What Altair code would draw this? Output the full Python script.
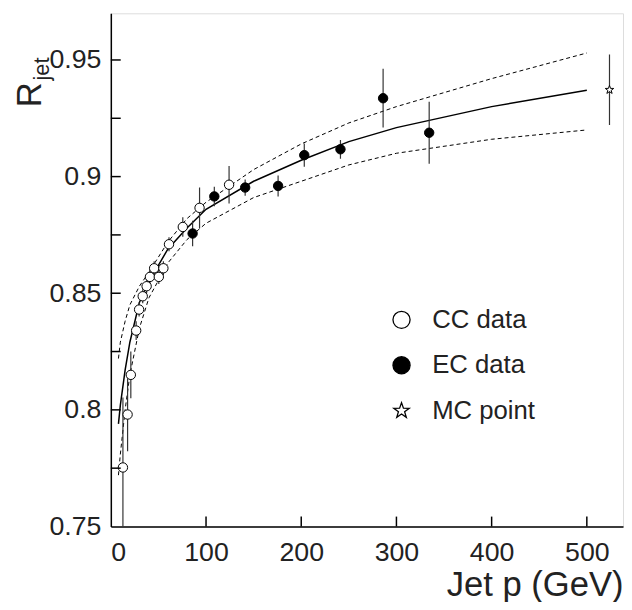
import altair as alt
import pandas as pd

# ---------------- data ----------------
cc_e = [12.7, 17.6, 21.0, 26.6, 29.7, 33.5, 37.6, 41.1, 45.5, 50.4, 55.2, 61.1, 75.6, 93.2, 124.2]
cc_r = [0.7753, 0.798, 0.815, 0.834, 0.843, 0.8487, 0.853, 0.857, 0.8607, 0.857, 0.8607, 0.871, 0.8784, 0.8866, 0.8965]
cc_err = [0.03, 0.0157, 0.010, 0.004, 0.003, 0.003, 0.003, 0.003, 0.003, 0.003, 0.003, 0.003, 0.0042, 0.0087, 0.008]

ec_e = [85.9, 108.7, 141.1, 175.7, 203.2, 241.2, 286.0, 334.4]
ec_r = [0.8756, 0.8915, 0.8953, 0.896, 0.9092, 0.9117, 0.9336, 0.9188]
ec_err = [0.0055, 0.0042, 0.0035, 0.0045, 0.005, 0.004, 0.0126, 0.0133]

mc_e = [523.8]
mc_r = [0.9372]
mc_err = [0.0151]

fit_e = [8, 10, 15, 20, 30, 40, 60, 80, 100, 150, 200, 250, 300, 400, 500]
fit_r = [0.794, 0.802, 0.817, 0.829, 0.846, 0.855, 0.869, 0.878, 0.886, 0.898, 0.907, 0.915, 0.921, 0.930, 0.937]
band_hi = [0.822, 0.829, 0.838, 0.845, 0.853, 0.859, 0.872, 0.882, 0.889, 0.903, 0.914, 0.923, 0.930, 0.942, 0.953]
band_lo = [0.772, 0.781, 0.800, 0.815, 0.835, 0.848, 0.863, 0.873, 0.880, 0.891, 0.898, 0.905, 0.910, 0.916, 0.920]

series_names = ["CC data", "EC data", "MC point"]
x_ticks = [100, 200, 300, 400, 500]
x_labels = [0, 100, 200, 300, 400, 500]
y_ticks = [0.775, 0.8, 0.825, 0.85, 0.875, 0.9, 0.925, 0.95]
y_labels = [0.75, 0.8, 0.85, 0.9, 0.95]

# ---------------- tables ----------------
rows = []
for name, es, rs, errs in [("CC data", cc_e, cc_r, cc_err),
                           ("EC data", ec_e, ec_r, ec_err),
                           ("MC point", mc_e, mc_r, mc_err)]:
    for e, r, d in zip(es, rs, errs):
        rows.append({"E": e, "R": r, "lo": r - d, "hi": r + d, "series": name})
pts = pd.DataFrame(rows)

curves = pd.DataFrame({"E": fit_e, "fit": fit_r})
band = pd.concat([
    pd.DataFrame({"E": fit_e, "R": band_hi, "b": "hi"}),
    pd.DataFrame({"E": fit_e, "R": band_lo, "b": "lo"}),
])

W, H = 518, 519
FONT = "Liberation Sans"
STAR = ("M0,-0.95L0.223,-0.308L0.903,-0.294L0.361,0.118L0.559,0.769L0,0.38"
        "L-0.559,0.769L-0.361,0.118L-0.903,-0.294L-0.223,-0.308Z")

xs = alt.Scale(domain=[0, 538], nice=False, zero=False)
ys = alt.Scale(domain=[0.75, 0.97], nice=False, zero=False)

xaxis = alt.Axis(values=x_labels, format="d", tickSize=0, labelPadding=13,
                 labelFontSize=27, labelFont=FONT, labelColor="#222",
                 title="Jet p (GeV)", titleFontSize=35, titleFont=FONT,
                 titleFontWeight="normal", titleAnchor="end", titleColor="#222",
                 titlePadding=3, grid=False, domainColor="black", domainWidth=1.5)
yaxis = alt.Axis(values=y_labels, tickSize=0, labelPadding=10,
                 labelFontSize=27, labelFont=FONT, labelColor="#222",
                 labelExpr="datum.value == 0.8 ? '0.8' : datum.value == 0.9 ? '0.9' : format(datum.value, '.2f')",
                 title=None, grid=False, domainColor="black", domainWidth=1.5)

band_layer = alt.Chart(band).mark_line(color="black", strokeWidth=1, strokeDash=[4, 3]).encode(
    x=alt.X("E:Q", scale=xs, axis=xaxis), y=alt.Y("R:Q", scale=ys, axis=yaxis), detail="b:N")
fit_layer = alt.Chart(curves).mark_line(color="black", strokeWidth=1.5).encode(
    x=alt.X("E:Q", scale=xs), y=alt.Y("fit:Q", scale=ys))

err_layer = alt.Chart(pts).mark_rule(color="#333", strokeWidth=1.2, clip=True).encode(
    x=alt.X("E:Q", scale=xs), y=alt.Y("lo:Q", scale=ys), y2="hi:Q")

leg = alt.Legend(title=None, orient="none", legendX=281, legendY=297,
                 symbolSize=300, symbolStrokeWidth=1.3,
                 labelFontSize=26, labelFont=FONT, labelColor="#222",
                 labelOffset=18, rowPadding=20, padding=0)

pt_layer = alt.Chart(pts).mark_point(filled=True, size=90, strokeWidth=1, opacity=1).encode(
    x=alt.X("E:Q", scale=xs),
    y=alt.Y("R:Q", scale=ys),
    shape=alt.Shape("series:N", scale=alt.Scale(domain=series_names, range=["circle", "circle", STAR]), legend=leg),
    fill=alt.Fill("series:N", scale=alt.Scale(domain=series_names, range=["white", "black", "white"]), legend=leg),
    stroke=alt.Stroke("series:N", scale=alt.Scale(domain=series_names, range=["black", "black", "black"]), legend=leg),
)

xtick_layer = alt.Chart(pd.DataFrame({"E": x_ticks})).mark_rule(color="black", strokeWidth=1.5).encode(
    x=alt.X("E:Q", scale=xs), y=alt.value(H), y2=alt.value(H - 10))
ytick_layer = alt.Chart(pd.DataFrame({"R": y_ticks})).mark_rule(color="black", strokeWidth=1.5).encode(
    y=alt.Y("R:Q", scale=ys), x=alt.value(0), x2=alt.value(10))

title_r = alt.Chart(pd.DataFrame({"t": ["R"]})).mark_text(
    angle=270, align="left", baseline="alphabetic", fontSize=35, font=FONT, color="#222").encode(
    x=alt.value(-71), y=alt.value(95), text="t:N")
title_jet = alt.Chart(pd.DataFrame({"t": ["jet"]})).mark_text(
    angle=270, align="left", baseline="alphabetic", fontSize=22, font=FONT, color="#222").encode(
    x=alt.value(-63), y=alt.value(68), text="t:N")

chart = alt.layer(
    band_layer, fit_layer, err_layer, pt_layer, xtick_layer, ytick_layer, title_r, title_jet
).properties(
    width=W, height=H,
    autosize=alt.AutoSizeParams(type="none"),
    padding={"left": 104, "top": 2, "right": 1, "bottom": 73},
).configure_view(
    stroke="#333", strokeDash=[4, 2], strokeWidth=1
).configure(background="white")

chart.save("out.html", embed_options={"renderer": "svg", "actions": False})
